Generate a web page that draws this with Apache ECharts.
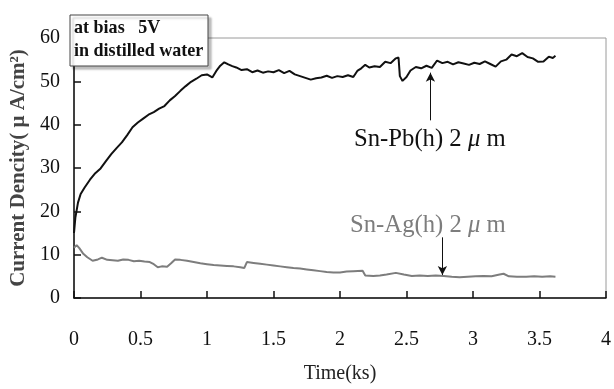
<!DOCTYPE html>
<html>
<head>
<meta charset="utf-8">
<script src="https://cdn.jsdelivr.net/npm/echarts@6/dist/echarts.min.js"></script>
<style>
  html, body { margin: 0; padding: 0; background: #fff; }
  #chart { width: 614px; height: 389px; }
</style>
</head>
<body>
<div id="chart"></div>
<script>
// Sn-Pb(h) 2um curve (time in ks, current density in uA/cm2)
const pbTime = [0, 0.01, 0.03, 0.05, 0.08, 0.12, 0.16, 0.2, 0.24, 0.28, 0.32, 0.36, 0.4, 0.44, 0.48, 0.52, 0.56, 0.6, 0.64, 0.68,
  0.72, 0.76, 0.8, 0.84, 0.88, 0.92, 0.96, 1.0, 1.04, 1.07, 1.1, 1.13, 1.16, 1.19, 1.22, 1.26, 1.3, 1.34, 1.38, 1.42,
  1.46, 1.5, 1.54, 1.58, 1.62, 1.66, 1.7, 1.74, 1.78, 1.82, 1.86, 1.9, 1.94, 1.98, 2.02, 2.06, 2.1, 2.13, 2.16, 2.19,
  2.22, 2.26, 2.3, 2.34, 2.38, 2.42, 2.44, 2.45, 2.47, 2.5, 2.53, 2.57, 2.61, 2.65, 2.69, 2.73, 2.77, 2.81, 2.85, 2.89,
  2.93, 2.97, 3.01, 3.05, 3.09, 3.13, 3.17, 3.21, 3.25, 3.29, 3.33, 3.37, 3.41, 3.45, 3.49, 3.53, 3.57, 3.6, 3.62];
const pbValue = [15, 18.5, 22, 24, 25.5, 27.3, 28.8, 29.9, 31.6, 33.2, 34.6, 35.9, 37.6, 39.4, 40.5, 41.4, 42.3, 42.9, 43.7, 44.3,
  45.6, 46.6, 47.8, 48.9, 49.9, 50.6, 51.4, 51.6, 50.9, 52.4, 53.6, 54.4, 53.9, 53.5, 53.2, 52.6, 52.8, 52.1, 52.5, 52.0,
  52.3, 52.1, 52.6, 51.9, 52.4, 51.6, 51.2, 50.8, 50.4, 50.7, 50.9, 51.3, 50.8, 51.2, 51.0, 51.4, 51.0, 52.4, 53.0, 53.8,
  53.2, 53.5, 53.3, 54.5, 54.2, 55.3, 55.5, 51.2, 50.1, 51.0, 52.5, 53.3, 53.0, 53.6, 53.1, 54.8, 54.2, 54.5, 53.9, 54.4,
  54.1, 53.8, 54.3, 54.0, 54.6, 54.0, 53.4, 54.6, 55.0, 56.2, 55.8, 56.5, 55.6, 55.3, 54.5, 54.6, 55.7, 55.4, 55.9];

// Sn-Ag(h) 2um curve
const agTime = [0, 0.02, 0.04, 0.07, 0.1, 0.14, 0.18, 0.21, 0.25, 0.29, 0.33, 0.37, 0.41, 0.45, 0.49, 0.53, 0.57, 0.6, 0.63, 0.66,
  0.7, 0.73, 0.76, 0.8, 0.85, 0.9, 0.95, 1.0, 1.05, 1.1, 1.15, 1.2, 1.25, 1.28, 1.3, 1.35, 1.4, 1.45, 1.5, 1.55,
  1.6, 1.65, 1.7, 1.75, 1.8, 1.85, 1.9, 1.95, 2.0, 2.05, 2.1, 2.17, 2.19, 2.25, 2.3, 2.35, 2.42, 2.48, 2.54, 2.6,
  2.66, 2.72, 2.78, 2.84, 2.9, 2.96, 3.02, 3.08, 3.14, 3.2, 3.23, 3.27, 3.33, 3.4, 3.46, 3.52, 3.58, 3.62];
const agValue = [11.6, 12.2, 11.5, 10.2, 9.4, 8.6, 8.9, 9.3, 8.8, 8.7, 8.6, 8.9, 8.8, 8.5, 8.6, 8.4, 8.3, 7.8, 7.1, 7.3,
  7.2, 8.0, 8.9, 8.8, 8.6, 8.3, 8.0, 7.8, 7.6, 7.5, 7.4, 7.3, 7.1, 6.9, 8.3, 8.1, 7.9, 7.7, 7.5, 7.3,
  7.1, 6.9, 6.8, 6.6, 6.4, 6.2, 6.0, 5.9, 5.9, 6.1, 6.2, 6.3, 5.2, 5.1, 5.2, 5.4, 5.8, 5.4, 5.1, 5.2,
  5.1, 5.2, 5.1, 4.9, 4.8, 4.9, 5.0, 5.1, 5.0, 5.4, 5.6, 5.0, 4.9, 4.9, 5.0, 4.9, 5.0, 4.9];

// arrows pointing at the curves
const pbArrow = [[2.68, 41], [2.68, 52]];
const agArrow = [[2.77, 14], [2.77, 5.3]];

const xTicks = [0, 0.5, 1, 1.5, 2, 2.5, 3, 3.5, 4];
const yTicks = [0, 10, 20, 30, 40, 50, 60];

const serif = '"Liberation Serif", "Times New Roman", serif';

function zip(xs, ys) {
  return xs.map((x, i) => [x, ys[i]]);
}

function arrowLine(pts) {
  return {
    silent: true,
    symbol: ['none', 'arrow'],
    symbolSize: [7, 9],
    label: { show: false },
    lineStyle: { color: '#111', width: 1, type: 'solid' },
    data: [[{ coord: pts[0] }, { coord: pts[1] }]]
  };
}

// curve labels, slightly condensed like the original figure's font
function label(text, x, y, color) {
  return {
    type: 'text', x: x, y: y, scaleX: 0.95, z: 101,
    style: {
      text: text,
      fill: color,
      rich: {
        a: { fontFamily: serif, fontSize: 26, fill: color },
        m: { fontFamily: serif, fontSize: 26, fontStyle: 'italic', fill: color }
      }
    }
  };
}

function boxText(text, y) {
  return {
    type: 'text', x: 74, y: y, scaleX: 0.95, z: 101,
    style: { text: text, fontFamily: serif, fontSize: 19, fontWeight: 'bold', fill: '#111' }
  };
}

const chart = echarts.init(document.getElementById('chart'));
const option = {
  animation: false,
  backgroundColor: '#fff',
  grid: {
    left: 74, right: 6, top: 38, bottom: 85,
    show: true, borderColor: '#9a9a9a', borderWidth: 1
  },
  xAxis: {
    type: 'value',
    min: xTicks[0],
    max: xTicks[xTicks.length - 1],
    interval: 0.5,
    splitLine: { show: false },
    axisLine: { lineStyle: { color: '#111', width: 1.5 } },
    axisTick: { inside: true, length: 7, lineStyle: { color: '#111', width: 1.5 } },
    axisLabel: { margin: 32, fontFamily: serif, fontSize: 20, color: '#111' },
    name: 'Time(ks)',
    nameLocation: 'middle',
    nameGap: 66,
    nameTextStyle: { fontFamily: serif, fontSize: 20, color: '#222' }
  },
  yAxis: {
    type: 'value',
    min: yTicks[0],
    max: yTicks[yTicks.length - 1],
    interval: 10,
    splitLine: { show: false },
    axisLine: { show: true, lineStyle: { color: '#111', width: 1.5 } },
    axisTick: { show: true, inside: true, length: 7, lineStyle: { color: '#111', width: 1.5 } },
    axisLabel: { margin: 14, fontFamily: serif, fontSize: 20, color: '#111' },
    name: 'Current Dencity( μ A/cm²)',
    nameLocation: 'middle',
    nameGap: 40,
    nameTextStyle: { fontFamily: serif, fontSize: 21, fontWeight: 'bold', color: '#444' }
  },
  series: [
    {
      name: 'Sn-Pb(h) 2μm',
      type: 'line',
      data: zip(pbTime, pbValue),
      showSymbol: false,
      lineStyle: { color: '#111', width: 2 },
      markLine: arrowLine(pbArrow)
    },
    {
      name: 'Sn-Ag(h) 2μm',
      type: 'line',
      data: zip(agTime, agValue),
      showSymbol: false,
      lineStyle: { color: '#7d7d7d', width: 2 },
      markLine: arrowLine(agArrow)
    }
  ],
  graphic: [
    {
      type: 'rect',
      x: 70, y: 15,
      shape: { width: 138, height: 51 },
      style: {
        fill: '#fff', stroke: '#444', lineWidth: 1,
        shadowColor: 'rgba(0,0,0,0.25)', shadowOffsetX: 3, shadowOffsetY: 3, shadowBlur: 2
      },
      z: 100
    },
    boxText('at bias   5V', 19),
    boxText('in distilled water', 42),
    label('{a|Sn-Pb(h) 2 }{m|μ}{a| m}', 354, 126, '#111'),
    label('{a|Sn-Ag(h) 2 }{m|μ}{a| m}', 350, 212, '#7d7d7d')
  ]
};
chart.setOption(option);
</script>
</body>
</html>
